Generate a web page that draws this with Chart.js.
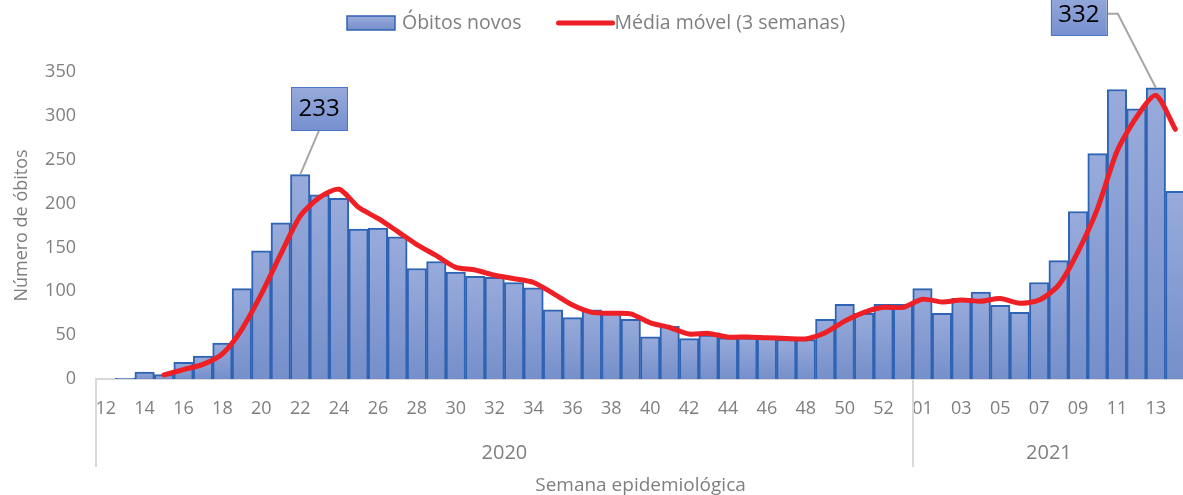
<!DOCTYPE html>
<html>
<head>
<meta charset="utf-8">
<script src="https://cdn.jsdelivr.net/npm/chart.js@4.4.1/dist/chart.umd.min.js"></script>
<style>
html, body { margin: 0; padding: 0; background: #ffffff; overflow: hidden; }
#wrap { position: relative; width: 1186px; height: 495px; }
</style>
</head>
<body>
<div id="wrap"><canvas id="c" width="1186" height="495"></canvas></div>
<script>
// ---------- DATA ----------
const weeks = ['12','13','14','15','16','17','18','19','20','21','22','23','24','25','26','27','28','29','30','31',
  '32','33','34','35','36','37','38','39','40','41','42','43','44','45','46','47','48','49','50','51','52','53',
  '01','02','03','04','05','06','07','08','09','10','11','12','13','14'];
const yearLabels = ['2020', '2021'];
const weeksPerYear = [42, 14];
const deaths = [0, 1, 8, 5, 19, 26, 41, 103, 146, 178, 233, 210, 206, 171, 172, 162, 126, 134, 122, 117,
  116, 110, 104, 79, 70, 79, 76, 68, 48, 60, 46, 50, 47, 47, 47, 45, 45, 68, 85, 75, 85, 85,
  103, 75, 92, 99, 84, 76, 110, 135, 191, 257, 330, 308, 332, 214];
const movingAvg = [null, null, null, 4.7, 10.7, 16.7, 28.7, 56.7, 96.7, 142.3, 185.7, 207, 216.3, 195.7, 183, 168.3, 153.3, 140.7, 127.3, 124.3,
  118.3, 114.3, 110, 97.7, 84.3, 76, 75, 74.3, 64, 58.7, 51.3, 52, 47.7, 48, 47, 46.3, 45.7, 52.7, 66, 76, 81.7, 81.7,
  91, 87.7, 90, 88.7, 91.7, 86.3, 90, 107, 145.3, 194.3, 259.3, 298.3, 323.3, 284.7];
const yTicks = [0, 50, 100, 150, 200, 250, 300, 350];
const seriesNames = ['Óbitos novos', 'Média móvel (3 semanas)'];
const calloutIndexes = [10, 54];

// ---------- STYLE ----------
const FONT = "'Open Sans', 'DejaVu Sans', sans-serif";
const TEXT = '#7F7F7F';
const BAR_BORDER = '#2F63B3';
const LINE_RED = '#EE1F25';

function barGradient(ctx2d, top, bottom) {
  const g = ctx2d.createLinearGradient(0, top, 0, bottom);
  g.addColorStop(0, '#98ABDB');
  g.addColorStop(1, '#768FCA');
  return g;
}

// callout layout (box centre relative to the bar top centre)
const calloutLayout = [
  { dx: 19, dy: -66, elbow: null },
  { dx: -77, dy: -74, elbow: 11 }
];

const overlay = {
  id: 'overlay',
  afterDraw(chart) {
    const { ctx, chartArea: a, scales: { x, y } } = chart;
    ctx.save();

    // category group separators
    ctx.strokeStyle = '#D9D9D9';
    ctx.lineWidth = 2;
    const bounds = [a.left];
    let acc = 0;
    weeksPerYear.forEach(n => {
      acc += n;
      const px = acc < weeks.length ? (x.getPixelForValue(acc - 1) + x.getPixelForValue(acc)) / 2 : a.right;
      bounds.push(px);
    });
    bounds.forEach(px => {
      ctx.beginPath();
      ctx.moveTo(Math.round(px), a.bottom);
      ctx.lineTo(Math.round(px), 467);
      ctx.stroke();
    });

    // year labels
    ctx.fillStyle = TEXT;
    ctx.font = `20px ${FONT}`;
    ctx.textAlign = 'center';
    ctx.textBaseline = 'middle';
    yearLabels.forEach((t, i) => ctx.fillText(t, (bounds[i] + bounds[i + 1]) / 2, 453));

    // callouts
    calloutIndexes.forEach((idx, k) => {
      const L = calloutLayout[k];
      const bx = x.getPixelForValue(idx);
      const by = y.getPixelForValue(deaths[idx]);
      const cx = bx + L.dx, cy = by + L.dy;
      const w = 56, h = 43;
      ctx.strokeStyle = '#A6A6A6';
      ctx.lineWidth = 2;
      ctx.beginPath();
      if (L.elbow === null) {
        ctx.moveTo(cx, cy + h / 2);
        ctx.lineTo(bx, by);
      } else {
        ctx.moveTo(cx + w / 2, cy);
        ctx.lineTo(cx + w / 2 + L.elbow, cy);
        ctx.lineTo(bx, by);
      }
      ctx.stroke();
      const g = ctx.createLinearGradient(0, cy - h / 2, 0, cy + h / 2);
      g.addColorStop(0, '#97AADB');
      g.addColorStop(1, '#7690CF');
      ctx.fillStyle = g;
      ctx.fillRect(cx - w / 2, cy - h / 2, w, h);
      ctx.strokeStyle = '#4A78C6';
      ctx.lineWidth = 1;
      ctx.strokeRect(Math.round(cx - w / 2) + 0.5, Math.round(cy - h / 2) + 0.5, w, h);
      ctx.fillStyle = '#000000';
      ctx.font = `24px ${FONT}`;
      ctx.textAlign = 'center';
      ctx.textBaseline = 'middle';
      ctx.fillText(String(deaths[idx]), cx, cy + 1);
    });

    // legend
    const ly = 23;
    let lx = 347;
    ctx.fillStyle = barGradient(ctx, ly - 7, ly + 7);
    ctx.fillRect(lx, ly - 7, 48, 14);
    ctx.strokeStyle = BAR_BORDER;
    ctx.lineWidth = 1.5;
    ctx.strokeRect(lx, ly - 7, 48, 14);
    ctx.fillStyle = TEXT;
    ctx.font = `19.5px ${FONT}`;
    ctx.textAlign = 'left';
    ctx.textBaseline = 'middle';
    lx += 55;
    ctx.fillText(seriesNames[0], lx, ly);
    lx += ctx.measureText(seriesNames[0]).width + 37;
    ctx.strokeStyle = LINE_RED;
    ctx.lineWidth = 5;
    ctx.lineCap = 'round';
    ctx.beginPath();
    ctx.moveTo(lx, ly);
    ctx.lineTo(lx + 54, ly);
    ctx.stroke();
    lx += 56;
    ctx.fillText(seriesNames[1], lx, ly);

    ctx.restore();
  }
};

new Chart(document.getElementById('c'), {
  data: {
    labels: weeks,
    datasets: [
      {
        type: 'line',
        label: seriesNames[1],
        data: movingAvg,
        order: 1,
        borderColor: LINE_RED,
        backgroundColor: LINE_RED,
        borderWidth: 5,
        tension: 0.25,
        pointRadius: 0,
        fill: false,
        borderCapStyle: 'round',
        borderJoinStyle: 'round'
      },
      {
        type: 'bar',
        label: seriesNames[0],
        data: deaths,
        order: 2,
        categoryPercentage: 1,
        barPercentage: 1,
        borderColor: BAR_BORDER,
        borderWidth: 2,
        backgroundColor: (c) => {
          const chart = c.chart;
          if (!chart.chartArea || c.raw == null) return '#8DA2D6';
          const ys = chart.scales.y;
          const top = ys.getPixelForValue(c.raw), bottom = ys.getPixelForValue(0);
          if (!(bottom - top > 1)) return '#8DA2D6';
          return barGradient(chart.ctx, top, bottom);
        }
      }
    ]
  },
  options: {
    responsive: false,
    animation: false,
    events: [],
    layout: { padding: { top: 72, left: 0, right: 1, bottom: 0 } },
    plugins: { legend: { display: false }, tooltip: { enabled: false } },
    scales: {
      x: {
        type: 'category',
        offset: true,
        grid: { display: false, drawTicks: false },
        border: { display: true, color: '#D9D9D9', width: 2 },
        ticks: {
          autoSkip: false, maxRotation: 0, minRotation: 0, padding: 19,
          color: TEXT, font: { family: FONT, size: 18 },
          callback: (v, i) => (i % 2 === 0 ? weeks[i] : '')
        },
        title: {
          display: true, text: 'Semana epidemiológica', color: TEXT,
          font: { family: FONT, size: 19, lineHeight: 1 }, padding: 0
        },
        afterFit: (s) => { s.height = 116; s.paddingLeft = 0; s.paddingRight = 0; }
      },
      y: {
        min: 0, max: 350,
        afterBuildTicks: (s) => { s.ticks = yTicks.map(v => ({ value: v })); },
        grid: { display: false, drawTicks: false },
        border: { display: false },
        ticks: { padding: 20, color: TEXT, font: { family: FONT, size: 18 } },
        title: {
          display: true, text: 'Número de óbitos', color: TEXT,
          font: { family: FONT, size: 18, lineHeight: 1.2 }, padding: { top: 11, bottom: 0 }
        },
        afterFit: (s) => { s.width = 96; }
      }
    }
  },
  plugins: [overlay]
});
</script>
</body>
</html>
